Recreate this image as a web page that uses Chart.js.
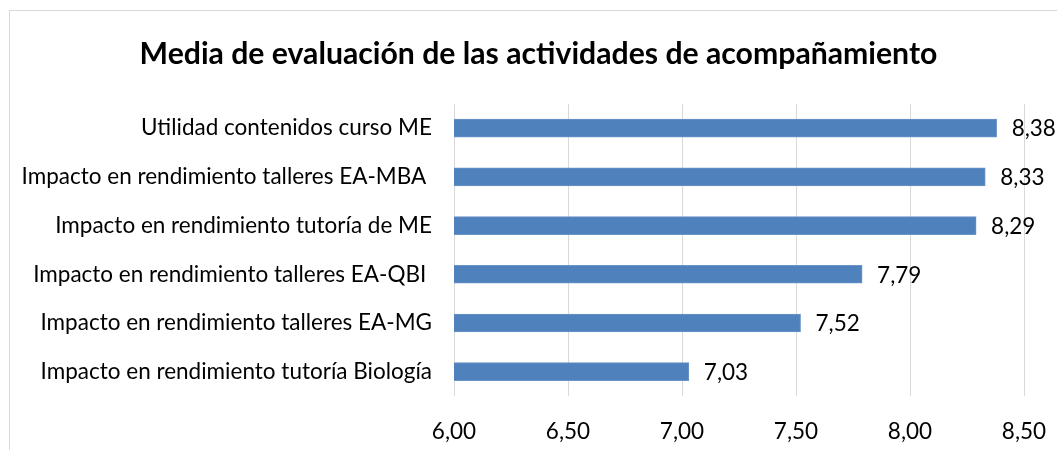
<!DOCTYPE html>
<html>
<head>
<meta charset="utf-8">
<script src="https://cdn.jsdelivr.net/npm/chart.js@4"></script>
<style>
    html, body { margin: 0; padding: 0; background: #fff; }
    #wrap { position: relative; width: 1057px; height: 450px; overflow: hidden; }
    #frame { position: absolute; left: 9px; top: 10px; width: 1200px; height: 600px; border: 1px solid #d9d9d9; }
    #chart { position: absolute; left: 0; top: 0; }
</style>
</head>
<body>
<div id="wrap">
    <div id="frame"></div>
    <canvas id="chart" width="1057" height="450"></canvas>
</div>
<script>
const categories = [
    'Utilidad contenidos curso ME',
    'Impacto en rendimiento talleres EA-MBA ',
    'Impacto en rendimiento tutoría de ME',
    'Impacto en rendimiento talleres EA-QBI ',
    'Impacto en rendimiento talleres EA-MG',
    'Impacto en rendimiento tutoría Biología'
];
const values = [8.38, 8.33, 8.29, 7.79, 7.52, 7.03];
const xTicks = [6.0, 6.5, 7.0, 7.5, 8.0, 8.5];

const fontFamily = 'Lato, "Open Sans", sans-serif';
const labelSize = 22.5;

function fmt(v) {
    return v.toFixed(2).replace('.', ',');
}

// draws the value next to the end of each bar
const valueLabels = {
    id: 'valueLabels',
    afterDatasetsDraw(chart) {
        const ctx = chart.ctx;
        const meta = chart.getDatasetMeta(0);
        ctx.save();
        ctx.font = labelSize + 'px ' + fontFamily;
        ctx.fillStyle = '#000';
        ctx.textAlign = 'left';
        ctx.textBaseline = 'middle';
        meta.data.forEach((bar, i) => {
            ctx.fillText(fmt(values[i]), bar.x + 15, bar.y + 1);
        });
        ctx.restore();
    }
};

new Chart(document.getElementById('chart').getContext('2d'), {
    type: 'bar',
    data: {
        labels: categories,
        datasets: [{
            data: values,
            backgroundColor: '#4f81bd',
            borderColor: '#6a95c8',
            borderWidth: 1,
            barThickness: 18
        }]
    },
    options: {
        indexAxis: 'y',
        responsive: false,
        animation: false,
        layout: {
            padding: { left: 20, right: 0, top: 0, bottom: 0 }
        },
        plugins: {
            legend: { display: false },
            tooltip: { enabled: false },
            title: {
                display: true,
                text: 'Media de evaluación de las actividades de acompañamiento',
                color: '#000',
                font: { family: fontFamily, size: 30.2, weight: 'bold', lineHeight: 1.2 },
                padding: { top: 36, bottom: 31.6 }
            }
        },
        scales: {
            x: {
                min: 6,
                max: 8.5,
                afterBuildTicks: scale => {
                    scale.ticks = xTicks.map(v => ({ value: v }));
                },
                afterFit: scale => {
                    scale.height = 54;
                    scale.paddingLeft = 0;
                    scale.paddingRight = 33;
                },
                grid: { color: '#d9d9d9', drawTicks: false },
                border: { display: false },
                ticks: {
                    color: '#000',
                    font: { family: fontFamily, size: labelSize },
                    padding: 22,
                    callback: v => fmt(v)
                }
            },
            y: {
                grid: { display: false },
                border: { display: false },
                afterFit: scale => {
                    scale.width = 434;
                    scale.paddingTop = 0;
                    scale.paddingBottom = 0;
                },
                ticks: {
                    color: '#000',
                    font: { family: fontFamily, size: labelSize },
                    padding: 14
                }
            }
        }
    },
    plugins: [valueLabels]
});
</script>
</body>
</html>
